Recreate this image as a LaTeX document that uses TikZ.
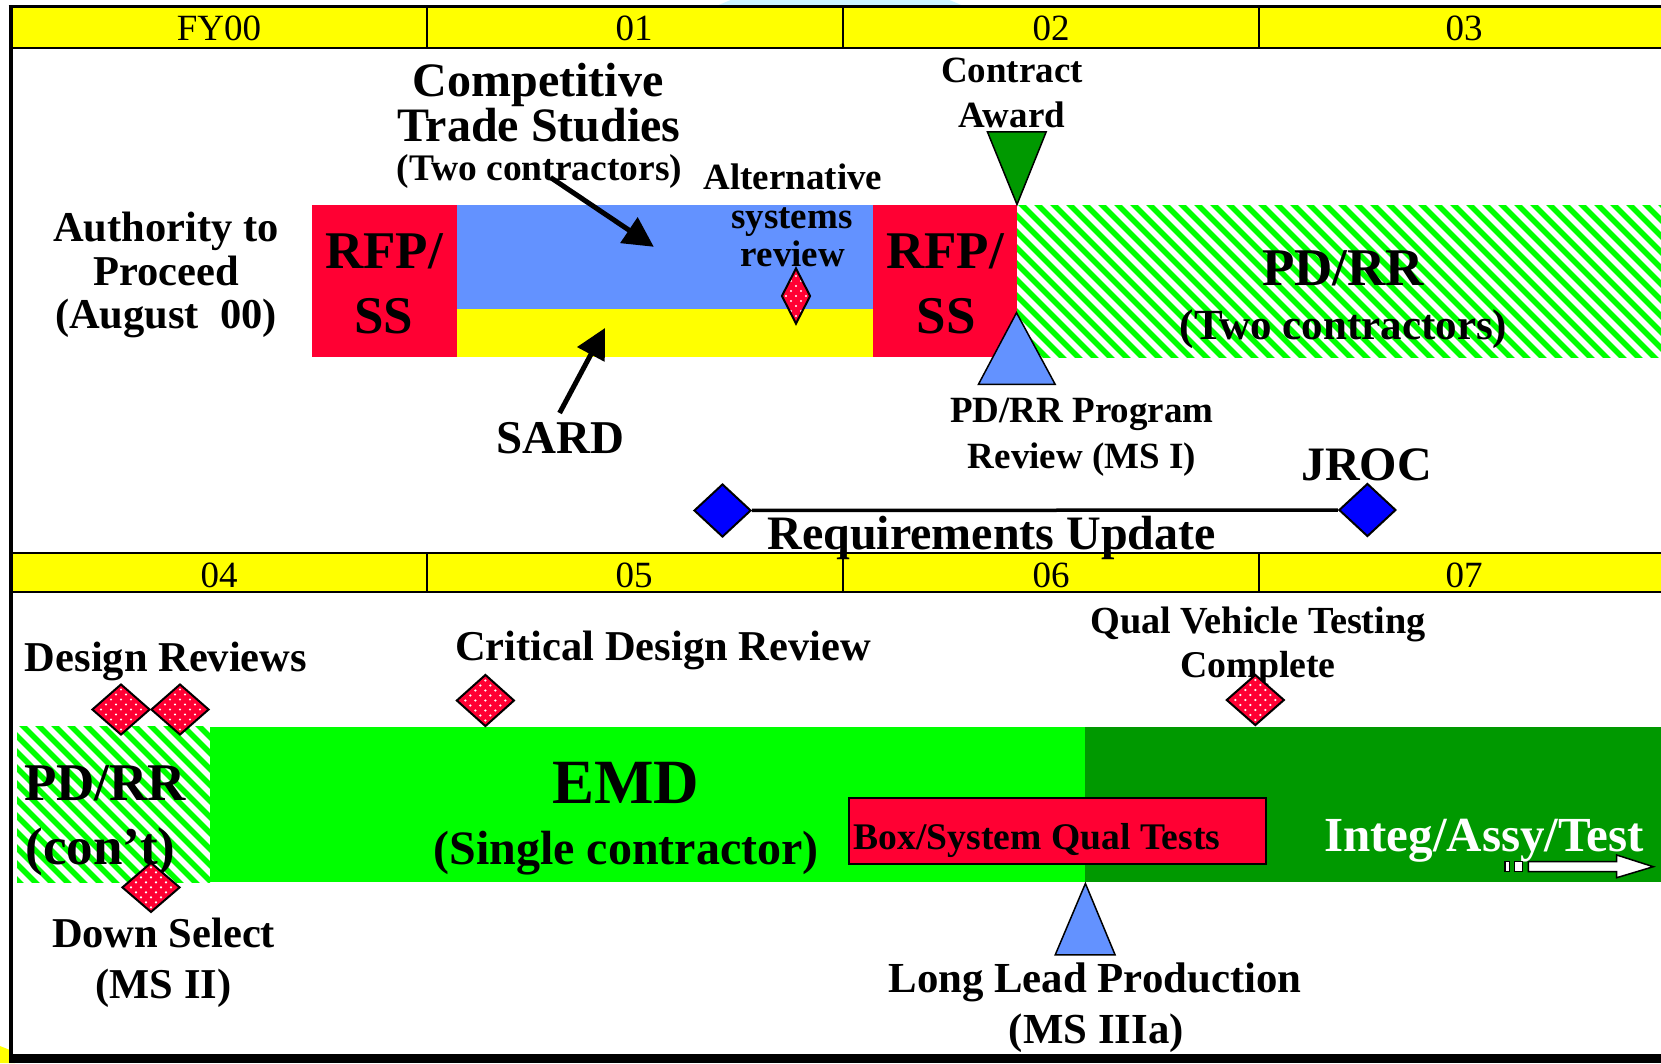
\documentclass[tikz,border=0pt]{standalone}
\usepackage{fontspec}
\setmainfont{Liberation Serif}
\usetikzlibrary{shapes.geometric,arrows.meta,calc}
\newcommand\fsz[1]{\fontsize{#1}{#1}\selectfont}
\definecolor{hdryel}{RGB}{255,255,0}
\definecolor{rfpred}{RGB}{255,0,51}
\definecolor{tsblue}{RGB}{99,146,255}
\definecolor{brgreen}{RGB}{0,255,0}
\definecolor{dkgreen}{RGB}{0,153,0}
\definecolor{dblue}{RGB}{0,0,255}
\definecolor{skycyan}{RGB}{204,242,255}
\begin{document}
\begin{tikzpicture}[x=1pt,y=-1pt,
  lbl/.style={inner sep=0pt, outer sep=0pt, anchor=base, font=\bfseries\fsz{#1}},
  hdr/.style={inner sep=0pt, outer sep=0pt, anchor=base, font=\fsz{37}},
  rdia/.style={shape=diamond, draw=black, line width=2pt, fill=rfpred, inner sep=0pt,
    path picture={\foreach \j in {-6,...,6}{\foreach \i in {-4,...,4}{
      \fill[white] ($(path picture bounding box.center)+({\i*10+mod(abs(\j),2)*5},{\j*5})$) circle[radius=1.2pt];}}}},
  bdia/.style={shape=diamond, draw=black, line width=2pt, fill=dblue, inner sep=0pt,
    minimum width=57pt, minimum height=53pt},
  tri/.style={draw=black, line width=1.5pt, line join=miter},
  callout/.style={line width=5pt, -{Triangle[length=30pt,width=30pt]}},
  hatch/.style={brgreen, line width=5.5pt},
  divider/.style={line width=2pt},
  whitearrow/.style={fill=white, draw=black, line width=1.5pt},
]
\useasboundingbox (0,0) rectangle (1661,1063);
\fill[white] (0,0) rectangle (1661,1063);

% faint template shape above the frame
\begin{scope}
  \clip (0,0) rectangle (1661,6.5);
  \fill[skycyan] (840,150) ellipse [x radius=232pt, y radius=170pt];
\end{scope}

% ---- headers ----
\fill[hdryel] (13,7.5) rectangle (1661,47.5);
\draw[divider] (13,47.5) -- (1661,47.5);
\foreach \xd in {427,843,1259} \draw[divider] (\xd,7) -- (\xd,47.5);
\node[hdr] (h00) at (219,40.6) {FY00};
\node[hdr] (h01) at (634,40.6) {01};
\node[hdr] (h02) at (1051,40.6) {02};
\node[hdr] (h03) at (1464,40.6) {03};

\fill[hdryel] (13,553) rectangle (1661,592.3);
\draw[line width=2.5pt] (13,553) -- (1661,553);
\draw[divider] (13,592.3) -- (1661,592.3);
\foreach \xd in {427,843,1259} \draw[divider] (\xd,553) -- (\xd,592.3);
\node[hdr] (h04) at (219,587) {04};
\node[hdr] (h05) at (634,587) {05};
\node[hdr] (h06) at (1051,587) {06};
\node[hdr] (h07) at (1464,587) {07};

% ---- top bars ----
\fill[rfpred] (312,205) rectangle (457,357);
\fill[tsblue] (457,205) rectangle (872.7,309);
\fill[hdryel] (457,309) rectangle (872.7,357);
\fill[rfpred] (872.7,205) rectangle (1017,357);
\begin{scope}
  \clip (1017,205) rectangle (1661,357);
  \foreach \k in {-11,...,41} \draw[hatch] (1017+\k*16,200) -- ++(170,170);
\end{scope}

% ---- bottom bars ----
\begin{scope}
  \clip (17,726.5) rectangle (210,882);
  \foreach \k in {-11,...,13} \draw[hatch] (17+\k*16,720) -- ++(170,170);
\end{scope}
\fill[brgreen] (210,726.5) rectangle (1085.4,882);
\fill[dkgreen] (1085.4,727) rectangle (1661,882);
\node[draw=black, fill=rfpred, line width=2pt, inner sep=0pt, anchor=north west,
      minimum width=417pt, minimum height=66.3pt] (boxq) at (847.5,796.8) {};

% ---- top texts ----
\node[lbl=48] (cts1) at (538,96.3) {Competitive};
\node[lbl=48] (cts2) at (539,141.3) {Trade Studies};
\node[lbl=37.5] (cts3) at (539.5,180) {(Two contractors)};
\node[lbl=42.5] (atp1) at (166,241.7) {Authority to};
\node[lbl=42.5] (atp2) at (166,285.7) {Proceed};
\node[lbl=42.5] (atp3) at (166,328) {(August~~00)};
\node[lbl=53] (rfp1a) at (384,268.8) {RFP/};
\node[lbl=53] (rfp1b) at (384,333) {SS};
\node[lbl=47] (sard) at (560,453) {SARD};
\node[lbl=37] (alt1) at (793,189.3) {Alternative};
\node[lbl=37] (alt2) at (792,228.3) {systems};
\node[lbl=37] (alt3) at (793,266.7) {review};
\node[lbl=53] (rfp2a) at (945,268.8) {RFP/};
\node[lbl=53] (rfp2b) at (946,333) {SS};
\node[lbl=37] (ca1) at (1012,82.8) {Contract};
\node[lbl=37] (ca2) at (1012,127.8) {Award};
\node[lbl=53] (pdrr1) at (1343,285.7) {PD/RR};
\node[lbl=43] (pdrr2) at (1343.5,339.8) {(Two contractors)};
\node[lbl=37] (prv1) at (1082,422.6) {PD/RR Program};
\node[lbl=37] (prv2) at (1082,468.2) {Review (MS I)};
\node[lbl=48] (jroc) at (1366.6,480.7) {JROC};
\node[lbl=48] (requ) at (991.6,549.3) {Requirements Update};

% ---- bottom texts ----
\node[lbl=42.5] (dr) at (166,671) {Design Reviews};
\node[lbl=42.5] (cdr) at (663,660.9) {Critical Design Review};
\node[lbl=53, anchor=base west] (pdc1) at (24,800.2) {PD/RR};
\node[lbl=53, anchor=base west] (pdc2) at (25.4,864.8) {(con’t)};
\node[lbl=42.5] (ds1) at (163.6,947.4) {Down Select};
\node[lbl=42.5] (ds2) at (163.6,998.4) {(MS II)};
\node[lbl=63] (emd1) at (625.5,803.6) {EMD};
\node[lbl=48] (emd2) at (626,864.8) {(Single contractor)};
\node[lbl=38.3] (qvt1) at (1258,633.7) {Qual Vehicle Testing};
\node[lbl=37.8] (qvt2) at (1258,677.9) {Complete};
\node[lbl=37.6, anchor=base west] (boxt) at (853.8,849.5) {Box/System Qual Tests};
\node[lbl=49, text=white] (iat) at (1484,851.2) {Integ/Assy/Test};
\node[lbl=42.8] (llp1) at (1095,992.3) {Long Lead Production};
\node[lbl=42.8] (llp2) at (1096.3,1043.3) {(MS IIIa)};

% ---- diamonds ----
\node[rdia, minimum width=29pt, minimum height=56pt] (altd) at (796,296) {};
\node[bdia] (rdL) at (722.5,510.5) {};
\node[bdia] (rdR) at (1367.4,510) {};
\draw[line width=3.5pt] (rdL) -- (rdR);
\node[rdia, minimum width=58pt, minimum height=51pt] (dr1) at (121,709.5) {};
\node[rdia, minimum width=58pt, minimum height=51pt] (dr2) at (180,709.5) {};
\node[rdia, minimum width=58pt, minimum height=52pt] (cdrd) at (485.4,700.5) {};
\node[rdia, minimum width=58pt, minimum height=50pt] (dsd) at (151,887.4) {};
\node[rdia, minimum width=58pt, minimum height=51pt] (qvtd) at (1255.3,700) {};

% ---- triangles ----
\filldraw[tri, fill=dkgreen] (987.4,131.8) -- (1046.2,131.8) -- (1017,204.5) -- cycle;
\filldraw[tri, fill=tsblue] (1016.5,312.7) -- (1055.2,384.4) -- (978.4,384.4) -- cycle;
\filldraw[tri, fill=tsblue] (1085.4,883.5) -- (1115.1,954.9) -- (1055.2,954.9) -- cycle;

% ---- callout arrows ----
\coordinate (tsTail) at (550.6,177.5);
\coordinate (tsTip) at (653.8,246.8);
\draw[callout] (tsTail) -- (tsTip);
\coordinate (sdTail) at (559.6,413);
\coordinate (sdTip) at (605,328);
\draw[callout] (sdTail) -- (sdTip);

% ---- white continuation arrow ----
\filldraw[whitearrow] (1528.3,861.7) -- (1616.7,861.7) -- (1616.7,855) -- (1653.3,866.7)
   -- (1616.7,877.7) -- (1616.7,871.7) -- (1528.3,871.7) -- cycle;
\filldraw[whitearrow] (1505,861.7) rectangle (1509.3,871.7);
\filldraw[whitearrow] (1514.3,861.7) rectangle (1522.7,871.7);

% ---- frame ----
\fill[hdryel] (0,1046) -- (10,1050) -- (15,1063) -- (0,1063) -- cycle;
\draw[line width=2.5pt] (8.5,6.5) -- (1661,6.5);
\fill[black] (8.5,5.5) rectangle (13,1063);
\fill[black] (8.5,1054) rectangle (1661,1063);
\end{tikzpicture}
\end{document}
